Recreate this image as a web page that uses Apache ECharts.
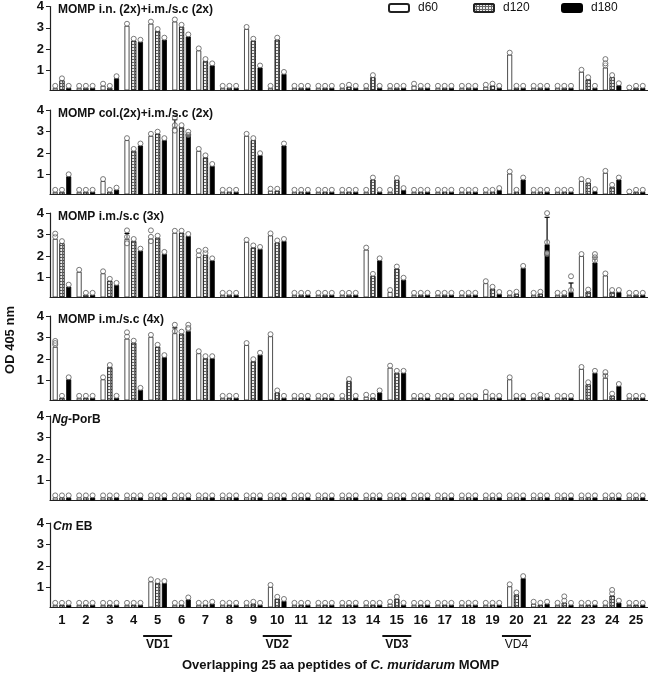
<!DOCTYPE html>
<html><head><meta charset="utf-8">
<script src="https://cdn.jsdelivr.net/npm/echarts@6/dist/echarts.min.js"></script>
<style>html,body{margin:0;padding:0;background:#fff}#c{width:648px;height:679px}</style>
</head><body><div id="c"></div><script>
const categories = ['1','2','3','4','5','6','7','8','9','10','11','12','13','14','15','16','17','18','19','20','21','22','23','24','25'];
const seriesNames = ['d60','d120','d180'];
const yTicks = [1,2,3,4];
const panelTitles = ['MOMP i.n. (2x)+i.m./s.c (2x)','MOMP col.(2x)+i.m./s.c (2x)','MOMP i.m./s.c (3x)','MOMP i.m./s.c (4x)','{i|Ng}-PorB','{i|Cm} EB'];

const p1_d60  = [0.2,0.2,0.3,3.1,3.2,3.3,1.95,0.2,2.95,0.2,0.2,0.2,0.2,0.2,0.2,0.3,0.2,0.2,0.25,1.75,0.2,0.2,0.95,1.15,0.12];
const p1_d120 = [0.55,0.2,0.2,2.4,2.85,3.05,1.45,0.2,2.4,2.45,0.2,0.2,0.25,0.7,0.2,0.2,0.2,0.2,0.3,0.2,0.2,0.2,0.6,0.7,0.2];
const p1_d180 = [0.2,0.2,0.65,2.35,2.45,2.6,1.25,0.2,1.15,0.85,0.2,0.2,0.2,0.2,0.2,0.2,0.2,0.2,0.2,0.2,0.2,0.2,0.2,0.32,0.2];

const p2_d60  = [0.2,0.2,0.7,2.6,2.8,3.2,2.1,0.2,2.8,0.25,0.2,0.2,0.2,0.2,0.2,0.2,0.2,0.2,0.2,1.05,0.2,0.2,0.7,1.08,0.12];
const p2_d120 = [0.2,0.2,0.2,2.1,2.9,3.2,1.8,0.2,2.6,0.25,0.2,0.2,0.2,0.77,0.75,0.2,0.2,0.2,0.2,0.2,0.2,0.2,0.62,0.43,0.2];
const p2_d180 = [0.92,0.2,0.3,2.35,2.6,2.9,1.4,0.2,1.9,2.35,0.2,0.2,0.2,0.2,0.28,0.2,0.2,0.2,0.28,0.77,0.2,0.2,0.23,0.77,0.2];

const p3_d60  = [2.8,1.27,1.2,2.8,2.8,3.08,1.95,0.2,2.66,2.96,0.2,0.2,0.2,2.3,0.33,0.2,0.2,0.2,0.74,0.2,0.2,0.2,2.0,1.1,0.2];
const p3_d120 = [2.6,0.2,0.85,2.7,2.85,3.08,2.05,0.2,2.4,2.63,0.2,0.2,0.2,1.08,1.42,0.2,0.2,0.2,0.48,0.25,0.25,0.2,0.35,0.33,0.2];
const p3_d180 = [0.58,0.2,0.66,2.25,2.1,2.93,1.8,0.2,2.33,2.7,0.2,0.2,0.2,1.8,0.9,0.2,0.2,0.2,0.24,1.45,2.55,0.33,1.7,0.33,0.2];

const p4_d60  = [2.57,0.2,1.06,2.95,3.03,3.2,2.27,0.2,2.65,3.06,0.2,0.2,0.2,0.25,1.6,0.2,0.2,0.2,0.38,1.06,0.2,0.2,1.54,1.13,0.2];
const p4_d120 = [0.2,0.2,1.63,2.76,2.57,3.18,2.04,0.2,1.9,0.45,0.2,0.2,0.98,0.2,1.36,0.2,0.2,0.2,0.2,0.2,0.25,0.2,0.83,0.3,0.2];
const p4_d180 = [1.06,0.2,0.2,0.57,2.09,3.3,2.04,0.2,2.2,0.2,0.2,0.2,0.2,0.45,1.36,0.2,0.2,0.2,0.2,0.2,0.2,0.2,1.36,0.75,0.2];

const p5_d60  = [0.22,0.22,0.22,0.22,0.22,0.22,0.22,0.22,0.22,0.22,0.22,0.22,0.22,0.22,0.22,0.22,0.22,0.22,0.22,0.22,0.22,0.22,0.22,0.22,0.22];
const p5_d120 = [0.22,0.22,0.22,0.22,0.22,0.22,0.22,0.22,0.22,0.22,0.22,0.22,0.22,0.22,0.22,0.22,0.22,0.22,0.22,0.22,0.22,0.22,0.22,0.22,0.22];
const p5_d180 = [0.22,0.22,0.22,0.22,0.22,0.22,0.22,0.22,0.22,0.22,0.22,0.22,0.22,0.22,0.22,0.22,0.22,0.22,0.22,0.22,0.22,0.22,0.22,0.22,0.22];

const p6_d60  = [0.2,0.2,0.2,0.2,1.29,0.2,0.2,0.2,0.2,1.03,0.2,0.2,0.2,0.2,0.25,0.2,0.2,0.2,0.2,1.06,0.25,0.2,0.2,0.2,0.2];
const p6_d120 = [0.2,0.2,0.2,0.2,1.21,0.2,0.2,0.2,0.25,0.48,0.2,0.2,0.2,0.2,0.48,0.2,0.2,0.2,0.2,0.68,0.2,0.3,0.2,0.63,0.2];
const p6_d180 = [0.2,0.2,0.2,0.2,1.21,0.45,0.25,0.2,0.2,0.38,0.2,0.2,0.2,0.2,0.2,0.2,0.2,0.2,0.2,1.44,0.25,0.2,0.2,0.3,0.2];

// [panel, category, series, value] individual points that stand apart from the mean
const extraPoints = [
  [0,24,0,1.45],[0,24,0,1.25],
  [1,6,0,3.55],[1,6,0,2.95],[1,6,2,2.75],
  [2,1,0,2.95],[2,4,0,3.1],[2,4,0,2.5],[2,5,0,3.1],[2,5,0,2.6],[2,7,0,2.15],[2,7,1,2.2],
  [2,21,2,3.9],[2,21,2,2.0],[2,21,2,2.05],[2,22,2,0.97],[2,23,2,2.0],[2,23,2,1.85],
  [3,1,0,2.75],[3,1,0,2.65],[3,4,0,3.15],[3,6,0,3.5],[3,6,2,3.5],[3,6,2,3.35],[3,24,0,1.3],
  [5,22,1,0.5],[5,24,1,0.8]
];
// [panel, category, series, upper error]
const errorTops = [
  [1,6,0,3.55],[2,4,0,3.05],[2,21,2,3.8],[2,22,2,0.75],[2,23,2,1.95],[3,6,0,3.45],[3,24,0,1.3]
];
const vdLabels = ['VD1','VD2','VD3','VD4'];
const vdCategories = ['5','10','15','20'];
const yTitle = 'OD 405 nm';

const panels = [
  [p1_d60,p1_d120,p1_d180],[p2_d60,p2_d120,p2_d180],[p3_d60,p3_d120,p3_d180],
  [p4_d60,p4_d120,p4_d180],[p5_d60,p5_d120,p5_d180],[p6_d60,p6_d120,p6_d180]
];

const FONT = '"Liberation Sans", Arial, sans-serif';
const axisY = [90,194,297,400,500,607];
const gridH = 84;
const gridLeft = 50, gridW = 600;
const bandW = gridW / categories.length;
const barW = 5, barGapPct = 35;
const barStep = barW * (1 + barGapPct/100);
const offsets = [-barStep/bandW, 0, barStep/bandW];
const titleLeft = [58,58,58,58,52,53];

const grids = [], xAxes = [], yAxes = [], series = [], titles = [];
const styles = [
  {color:'#ffffff', borderColor:'#222', borderWidth:0.8},
  {color:'#666666', borderColor:'#222', borderWidth:0.8,
   decal:{symbol:'rect', symbolSize:1, dashArrayX:[2,1], dashArrayY:[2,1], color:'#eeeeee', rotation:0}},
  {color:'#000000', borderColor:'#000', borderWidth:0.8}
];

panels.forEach((pd, i) => {
  const top = axisY[i] - gridH;
  grids.push({left:gridLeft, top:top, width:gridW, height:gridH, containLabel:false});
  xAxes[i] = {
    type:'category', gridIndex:i, data:categories,
    axisLine:{lineStyle:{color:'#222', width:1.2}},
    axisTick:{alignWithLabel:true, length:4, lineStyle:{color:'#222'}},
    axisLabel:{show:i===5, color:'#111', fontFamily:FONT, fontWeight:'bold', fontSize:13, margin:7},
    splitLine:{show:false}
  };
  xAxes[6+i] = {type:'value', gridIndex:i, min:0.5, max:25.5, show:false};
  yAxes.push({
    type:'value', gridIndex:i, min:0.1, max:4,
    axisLine:{show:true, lineStyle:{color:'#222', width:1.2}},
    axisTick:{show:true, length:4, customValues:yTicks, lineStyle:{color:'#222'}},
    axisLabel:{customValues:yTicks, color:'#111', fontFamily:FONT, fontWeight:'bold', fontSize:13, margin:6},
    splitLine:{show:false}
  });
  titles.push({
    text:panelTitles[i], left:titleLeft[i], top:top-2, padding:0,
    textStyle:{fontFamily:FONT, fontWeight:'bold', fontSize:12, color:'#111',
      rich:{i:{fontFamily:FONT, fontWeight:'bold', fontStyle:'italic', fontSize:12, color:'#111'}}}
  });
  pd.forEach((vals, s) => {
    series.push({
      type:'bar', name:seriesNames[s], xAxisIndex:i, yAxisIndex:i, data:vals,
      barWidth:barW, barGap:barGapPct+'%', itemStyle:styles[s], silent:true, animation:false
    });
  });
  const dots = [];
  pd.forEach((vals, s) => vals.forEach((v, k) => dots.push([k + 1 + offsets[s], v])));
  extraPoints.filter(e => e[0] === i).forEach(e => dots.push([e[1] + offsets[e[2]], e[3]]));
  const errs = errorTops.filter(e => e[0] === i).map(e => [e[1] + offsets[e[2]], pd[e[2]][e[1]-1], e[3]]);
  series.push({
    type:'custom', xAxisIndex:6+i, yAxisIndex:i, data:errs, silent:true, animation:false, z:3,
    encode:{x:0, y:[1,2]},
    renderItem:(params, api) => {
      const a = api.coord([api.value(0), api.value(1)]);
      const b = api.coord([api.value(0), api.value(2)]);
      return {type:'group', children:[
        {type:'line', shape:{x1:a[0],y1:a[1],x2:b[0],y2:b[1]}, style:{stroke:'#000', lineWidth:1.2}},
        {type:'line', shape:{x1:b[0]-2.5,y1:b[1],x2:b[0]+2.5,y2:b[1]}, style:{stroke:'#000', lineWidth:1.2}}
      ]};
    }
  });
  series.push({
    type:'scatter', xAxisIndex:6+i, yAxisIndex:i, data:dots, symbol:'circle', symbolSize:5,
    symbolOffset:[0,-2], silent:true, animation:false, z:4,
    itemStyle:{color:'rgba(255,255,255,0.5)', borderColor:'#5a5a5a', borderWidth:1}
  });
});

titles.push({
  text:'{a|Overlapping 25 aa peptides of }{b|C. muridarum}{a| MOMP}', left:182, top:659, padding:0,
  textStyle:{rich:{
    a:{fontFamily:FONT, fontWeight:'bold', fontSize:13, color:'#111'},
    b:{fontFamily:FONT, fontWeight:'bold', fontStyle:'italic', fontSize:13, color:'#111'}
  }}
});

const legendBase = {orient:'horizontal', top:2, itemWidth:20, itemHeight:8, padding:0, selectedMode:false,
  textStyle:{fontFamily:FONT, fontSize:12, color:'#111', padding:[0,0,0,4]}};
const chart = echarts.init(document.getElementById('c'), null, {renderer:'canvas'});
chart.setOption({
  animation:false, backgroundColor:'#fff',
  title:titles, grid:grids, xAxis:xAxes, yAxis:yAxes, series:series,
  legend:[
    Object.assign({}, legendBase, {left:388, data:['d60']}),
    Object.assign({}, legendBase, {left:473, data:['d120']}),
    Object.assign({}, legendBase, {left:561, data:['d180']})
  ]
});

const graphics = [{
  type:'text', x:10, y:340, rotation:Math.PI/2,
  style:{text:yTitle, font:'bold 13px '+FONT, fill:'#111', align:'center', verticalAlign:'middle'}
}];
vdCategories.forEach((c, j) => {
  const cx = chart.convertToPixel({xAxisIndex:5}, c);
  graphics.push({type:'line', shape:{x1:cx-14.5, y1:636, x2:cx+14.5, y2:636}, style:{stroke:'#111', lineWidth:2}});
  graphics.push({type:'text', x:cx, y:645, style:{text:vdLabels[j], font:(j===3?'':'bold ')+'12px '+FONT, fill:'#111', align:'center', verticalAlign:'middle'}});
});
chart.setOption({graphic:graphics});
</script></body></html>
